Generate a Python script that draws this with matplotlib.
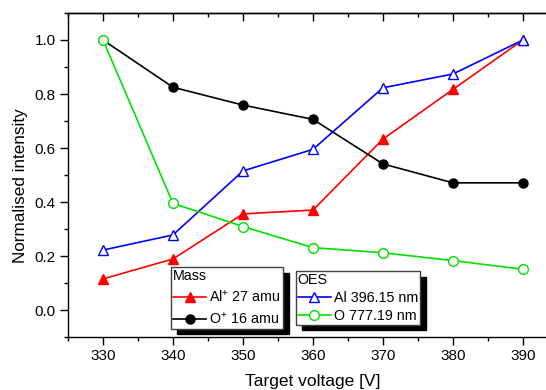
import matplotlib
matplotlib.use('Agg')
import matplotlib.pyplot as plt
from matplotlib.patches import Shadow
from matplotlib.ticker import MultipleLocator

plt.rcParams['font.family'] = ['Liberation Sans', 'DejaVu Sans']
plt.rcParams['mathtext.fontset'] = 'custom'
plt.rcParams['mathtext.rm'] = 'Liberation Sans'
plt.rcParams['mathtext.it'] = 'Liberation Sans:italic'

# 데이터
voltage = [330, 340, 350, 360, 370, 380, 390]
al_mass = [0.115, 0.189, 0.356, 0.370, 0.633, 0.817, 1.0]
o_mass = [1.0, 0.825, 0.759, 0.706, 0.541, 0.471, 0.471]
al_oes = [0.222, 0.278, 0.515, 0.595, 0.823, 0.874, 1.0]
o_oes = [1.0, 0.395, 0.309, 0.231, 0.212, 0.183, 0.151]

fig = plt.figure(figsize=(5.46, 3.9), dpi=100)
ax = fig.add_axes([68 / 546, 1 - 337 / 390, 478 / 546, 324 / 390])

lw = 1.2
l_al, = ax.plot(voltage, al_mass, color='red', lw=lw, marker='^', ms=7,
                mfc='red', mec='red', label='Al$^{+}$ 27 amu')
l_o, = ax.plot(voltage, o_mass, color='black', lw=lw, marker='o', ms=6.5,
               mfc='black', mec='black', label='O$^{+}$ 16 amu')
l_al2, = ax.plot(voltage, al_oes, color='blue', lw=lw, marker='^', ms=7.5,
                 mfc='white', mec='blue', mew=1.0, label='Al 396.15 nm')
l_o2, = ax.plot(voltage, o_oes, color='#00e000', lw=lw, marker='o', ms=7,
                mfc='white', mec='#00e000', mew=1.0, label='O 777.19 nm')

ax.set_xlim(325, 393.3)
ax.set_ylim(-0.1, 1.1)
ax.xaxis.set_major_locator(MultipleLocator(10))
ax.xaxis.set_minor_locator(MultipleLocator(5))
ax.yaxis.set_major_locator(MultipleLocator(0.2))
ax.yaxis.set_minor_locator(MultipleLocator(0.1))
ax.yaxis.set_major_formatter(plt.FuncFormatter(lambda v, p: f'{v:.1f}'))

ax.spines['right'].set_visible(False)
for s in ['left', 'bottom', 'top']:
    ax.spines[s].set_linewidth(1.0)

ax.tick_params(axis='both', which='both', labelsize=11, width=1.0)
ax.tick_params(axis='both', which='major', direction='out', length=5.5,
               top=False, right=False)
ax.tick_params(axis='both', which='minor', direction='out', length=3,
               top=False, right=False)

# 위쪽 축: 안쪽 눈금만
sec = ax.secondary_xaxis('top')
sec.xaxis.set_major_locator(MultipleLocator(10))
sec.xaxis.set_minor_locator(MultipleLocator(5))
sec.tick_params(axis='x', which='major', direction='in', length=5.5, width=1.0)
sec.tick_params(axis='x', which='minor', direction='in', length=3, width=1.0)
sec.set_xticklabels([])
sec.spines['top'].set_linewidth(1.0)

ax.set_xlabel('Target voltage [V]', fontsize=12.5)
ax.set_ylabel('Normalised intensity', fontsize=12.3)
ax.xaxis.set_label_coords(0.5126, -0.113)
ax.yaxis.set_label_coords(-0.084, 0.466)

legend_kw = dict(loc='lower left', borderaxespad=0, fancybox=False,
                 edgecolor='#404040', framealpha=1, fontsize=10.3,
                 title_fontsize=10.3, alignment='left', handlelength=2.3,
                 handletextpad=0.2, borderpad=0.15)
leg1 = ax.legend(handles=[l_al, l_o], title='Mass',
                 bbox_to_anchor=(0.2155, 0.0256), labelspacing=0.4,
                 **legend_kw)
leg1.get_frame().set_linewidth(1.0)
ax.add_artist(leg1)
leg2 = ax.legend(handles=[l_al2, l_o2], title='OES',
                 bbox_to_anchor=(0.4763, 0.038), labelspacing=0.25,
                 **legend_kw)
leg2.get_frame().set_linewidth(1.0)

# 범례 그림자 (오른쪽 아래로 검은 상자)
for leg in (leg1, leg2):
    sh = Shadow(leg.legendPatch, 4.3, -4.0)
    sh.set_facecolor('black')
    sh.set_edgecolor('black')
    sh.set_alpha(1.0)
    sh.set_zorder(4.5)
    ax.add_artist(sh)
    sh.set_clip_on(False)

fig.canvas.draw()
fig.savefig('out.png', dpi=100)
